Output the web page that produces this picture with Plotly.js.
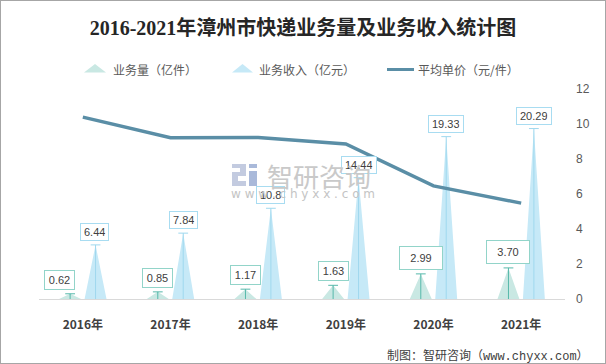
<!DOCTYPE html>
<html>
<head>
<meta charset="utf-8">
<script src="https://cdn.plot.ly/plotly-3.0.1.min.js"></script>
<style>
html,body{margin:0;padding:0;background:#fff;}
#frame{width:604px;height:362px;border:1px solid #a6a6a6;}
#chart{width:604px;height:362px;}
</style>
</head>
<body>
<div id="frame"><div id="chart"></div></div>
<script>
// ---- data ----
const years = ['2016年','2017年','2018年','2019年','2020年','2021年'];
const volume = [0.62, 0.85, 1.17, 1.63, 2.99, 3.70];      // 业务量（亿件）
const revenue = [6.44, 7.84, 10.8, 14.44, 19.33, 20.29];  // 业务收入（亿元）
const avgPrice = [10.39, 9.22, 9.23, 8.86, 6.46, 5.48];   // 平均单价（元/件）
const volumeLabels = volume.map(v => v.toFixed(2));
const revenueLabels = revenue.map(v => String(v));

// ---- styling / layout helpers ----
const VOL_OFF = -0.145, REV_OFF = 0.145, HALF = 0.125;
const volFill = '#c9e8e3', revFill = '#c6e9f7';
const volStem = '#56b8aa', revStem = '#9fd8ee';
const lineColor = '#5a8ea6';
const idx = years.map((_, i) => i);

function triangles(vals, off) {
  const x = [], y = [];
  vals.forEach((v, i) => { x.push(i + off - HALF, i + off, i + off + HALF, null); y.push(0, v, 0, null); });
  return {x, y};
}
function stems(vals, off) {
  const x = [], y = [];
  vals.forEach((v, i) => { x.push(i + off, i + off, null); y.push(0, v, null); });
  return {x, y};
}
const vt = triangles(volume, VOL_OFF), rt = triangles(revenue, REV_OFF);
const vs = stems(volume, VOL_OFF), rs = stems(revenue, REV_OFF);

const traces = [
  {x: vt.x, y: vt.y, mode: 'lines', fill: 'toself', fillcolor: volFill, line: {width: 0, color: volFill}, hoverinfo: 'skip', showlegend: false},
  {x: rt.x, y: rt.y, mode: 'lines', fill: 'toself', fillcolor: revFill, line: {width: 0, color: revFill}, hoverinfo: 'skip', showlegend: false},
  {x: vs.x, y: vs.y, mode: 'lines', line: {width: 1, color: volStem}, hoverinfo: 'skip', showlegend: false},
  {x: rs.x, y: rs.y, mode: 'lines', line: {width: 1, color: revStem}, hoverinfo: 'skip', showlegend: false},
  {x: idx.map(i => i + VOL_OFF), y: volume, mode: 'markers', marker: {symbol: 'line-ew', size: 7, line: {width: 1, color: volStem}}, hoverinfo: 'skip', showlegend: false},
  {x: idx.map(i => i + REV_OFF), y: revenue, mode: 'markers', marker: {symbol: 'line-ew', size: 7, line: {width: 1, color: revStem}}, hoverinfo: 'skip', showlegend: false},
  {x: idx, y: avgPrice, yaxis: 'y2', mode: 'lines', line: {width: 3.5, color: lineColor}, name: '平均单价（元/件）', showlegend: false}
];

// page pixel -> paper coordinates (plot area x 39..565, y 89..299 on page)
const PX = p => (p - 39) / 526;
const PY = p => (299 - p) / 210;

const annotations = [];
volume.forEach((v, i) => {
  const big = i >= 4;
  annotations.push({
    x: i + VOL_OFF, y: v, xref: 'x', yref: 'y', showarrow: false,
    text: volumeLabels[i], font: {size: 11, color: '#404040', family: 'Liberation Sans, Arial'},
    bgcolor: '#ffffff', bordercolor: '#92d4c9', borderwidth: 1, borderpad: 2,
    width: big ? 38 : 25, height: big ? 18 : 14,
    yshift: big ? 16 : 14, xshift: i === 0 ? -11 : 0
  });
});
revenue.forEach((v, i) => {
  annotations.push({
    x: i + REV_OFF, y: v, xref: 'x', yref: 'y', showarrow: false,
    text: revenueLabels[i], font: {size: 11, color: '#404040', family: 'Liberation Sans, Arial'},
    bgcolor: '#ffffff', bordercolor: '#a8dcf1', borderwidth: 1, borderpad: 3,
    height: 10, yshift: 13, xshift: i === 0 ? -1 : 0
  });
});
// legend texts
const legFont = {size: 12, color: '#595959', family: 'Noto Sans CJK SC'};
[['业务量（亿件）', 111], ['业务收入（亿元）', 257], ['平均单价（元/件）', 415.5]].forEach(([t, px]) => {
  annotations.push({x: PX(px), y: PY(69.5), xref: 'paper', yref: 'paper', xanchor: 'left', yanchor: 'middle', showarrow: false, text: t, font: legFont});
});
// watermark
annotations.push({x: PX(319), y: PY(175), xref: 'paper', yref: 'paper', showarrow: false, text: '智研咨询', font: {size: 26, color: '#c9c9c9', family: 'Noto Sans CJK SC'}});
annotations.push({x: PX(303), y: PY(194), xref: 'paper', yref: 'paper', showarrow: false, text: 'w w w . c h y x x . c o m', font: {size: 12, color: '#c4c4c4', family: 'DejaVu Sans'}});
// source
annotations.push({x: PX(591), y: PY(356), xref: 'paper', yref: 'paper', xanchor: 'right', yanchor: 'middle', showarrow: false, text: '制图：智研咨询（www.chyxx.com）', font: {size: 12, color: '#404040', family: 'Liberation Mono, Noto Sans CJK SC'}});

const shapes = [
  // legend icons
  {type: 'path', xref: 'paper', yref: 'paper', path: `M ${PX(84)} ${PY(72.5)} L ${PX(95)} ${PY(64)} L ${PX(106)} ${PY(72.5)} Z`, fillcolor: volFill, line: {width: 0}},
  {type: 'path', xref: 'paper', yref: 'paper', path: `M ${PX(232)} ${PY(72.5)} L ${PX(242.5)} ${PY(64)} L ${PX(253)} ${PY(72.5)} Z`, fillcolor: revFill, line: {width: 0}},
  {type: 'line', xref: 'paper', yref: 'paper', x0: PX(387), x1: PX(414), y0: PY(69.5), y1: PY(69.5), line: {width: 3, color: lineColor}},
  // watermark logo (approximation)
  {type: 'path', xref: 'paper', yref: 'paper', path: `M ${PX(232)} ${PY(164)} L ${PX(246)} ${PY(164)} L ${PX(246)} ${PY(176)} L ${PX(238)} ${PY(176)} L ${PX(238)} ${PY(181)} L ${PX(246)} ${PY(181)} L ${PX(246)} ${PY(186)} L ${PX(232)} ${PY(186)} L ${PX(232)} ${PY(172)} L ${PX(240)} ${PY(172)} L ${PX(240)} ${PY(168)} L ${PX(232)} ${PY(168)} Z`, fillcolor: '#c3cbe0', line: {width: 0}, layer: 'below'},
  {type: 'rect', xref: 'paper', yref: 'paper', x0: PX(249), x1: PX(257), y0: PY(186), y1: PY(171), fillcolor: '#a9b9da', line: {width: 0}, layer: 'below'},
  {type: 'rect', xref: 'paper', yref: 'paper', x0: PX(249), x1: PX(257), y0: PY(168), y1: PY(164), fillcolor: '#a9b9da', line: {width: 0}, layer: 'below'}
];

const layout = {
  width: 604, height: 362,
  margin: {l: 38, r: 40, t: 88, b: 64, pad: 0},
  paper_bgcolor: '#ffffff', plot_bgcolor: '#ffffff',
  showlegend: false,
  title: {text: '<b>2016-2021年漳州市快递业务量及业务收入统计图</b>', x: 0.5, xanchor: 'center', yref: 'container', y: 1 - 27 / 362, yanchor: 'middle',
          font: {size: 20, color: '#262626', family: 'Liberation Serif, Noto Sans CJK SC'}},
  xaxis: {range: [-0.5, 5.5], tickvals: idx, ticktext: years.map(y => '<b>' + y + '</b>'), showgrid: false, zeroline: false,
          showline: true, linecolor: '#d9d9d9', linewidth: 1, ticks: '', ticklabelstandoff: 15,
          tickfont: {size: 12, color: '#404040', family: 'Noto Sans CJK SC'}, fixedrange: true},
  yaxis: {range: [0, 25], visible: false, fixedrange: true},
  yaxis2: {range: [0, 12], dtick: 2, overlaying: 'y', side: 'right', showgrid: false, zeroline: false, showline: false, ticks: '',
           ticklabelstandoff: 10, tickfont: {size: 12, color: '#595959', family: 'Liberation Sans, Arial'}, fixedrange: true},
  annotations, shapes
};
Plotly.newPlot('chart', traces, layout, {displayModeBar: false, staticPlot: true});
</script>
</body>
</html>
